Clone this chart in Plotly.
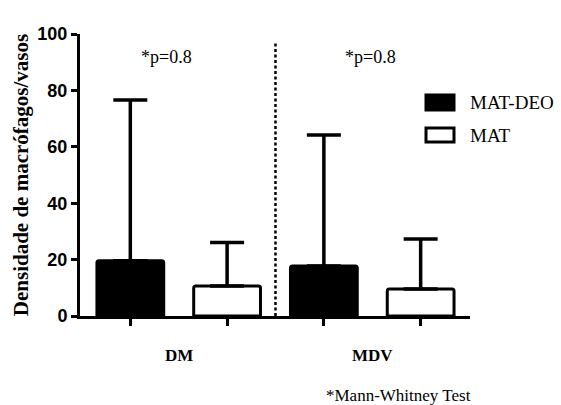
import plotly.graph_objects as go

# ---- data ----
groups = ["DM", "MDV"]
series_names = ["MAT-DEO", "MAT"]
mat_deo_mean = [19.6, 17.7]
mat_deo_upper = [76.6, 64.2]
mat_mean = [10.6, 9.6]
mat_upper = [26.1, 27.3]
p_values = ["*p=0.8", "*p=0.8"]
y_ticks = [0, 20, 40, 60, 80, 100]

W, H = 561, 405
ML, MR, MT, MB = 80, 91, 34, 89
PW, PH = W - ML - MR, H - MT - MB

def px(x):
    return (x - ML) / PW

def py(y):
    return (H - MB - y) / PH

SERIF = "Liberation Serif"
SANS = "Liberation Sans"

fig = go.Figure()

pos_deo = [0, 2]
pos_mat = [1, 3]

fig.add_trace(go.Bar(
    x=pos_deo, y=mat_deo_mean, name=series_names[0], width=0.69,
    marker=dict(color="black", line=dict(color="black", width=3), cornerradius=2),
    error_y=dict(type="data", symmetric=False,
                 array=[u - m for u, m in zip(mat_deo_upper, mat_deo_mean)],
                 arrayminus=[0, 0], color="black", thickness=3.5, width=17),
    showlegend=False,
))
fig.add_trace(go.Bar(
    x=pos_mat, y=mat_mean, name=series_names[1], width=0.69,
    marker=dict(color="white", line=dict(color="black", width=3), cornerradius=2),
    error_y=dict(type="data", symmetric=False,
                 array=[u - m for u, m in zip(mat_upper, mat_mean)],
                 arrayminus=[0, 0], color="black", thickness=3.5, width=17),
    showlegend=False,
))

# dashed separator
fig.add_shape(type="line", xref="x", yref="y", x0=1.5, x1=1.5, y0=0, y1=97.5,
              line=dict(color="black", width=2.5, dash="3px,2.5px"))

annotations = []
p_x = [0.375, 2.48]
for i, g in enumerate(groups):
    annotations.append(dict(x=2 * i + 0.5, y=py(355), xref="x", yref="paper",
                            text="<b>" + g + "</b>", showarrow=False,
                            font=dict(family=SERIF, size=17, color="black"),
                            xanchor="center", yanchor="middle"))
    annotations.append(dict(x=p_x[i], y=py(57), xref="x", yref="paper",
                            text=p_values[i], showarrow=False,
                            font=dict(family=SERIF, size=18, color="black"),
                            xanchor="center", yanchor="middle"))

# manual legend
leg = [(series_names[0], "black", 95, 110), (series_names[1], "white", 128, 142)]
for name, fill, y0, y1 in leg:
    fig.add_shape(type="rect", xref="paper", yref="paper",
                  x0=px(426), x1=px(454), y0=py(y1), y1=py(y0),
                  fillcolor=fill, line=dict(color="black", width=3))
    annotations.append(dict(x=px(468), y=py((y0 + y1) / 2), xref="paper", yref="paper",
                            text=name, showarrow=False, xanchor="left", yanchor="middle",
                            font=dict(family=SERIF, size=19, color="black")))

annotations.append(dict(x=px(398), y=py(395), xref="paper", yref="paper",
                        text="*Mann-Whitney Test", showarrow=False,
                        xanchor="center", yanchor="middle",
                        font=dict(family=SERIF, size=17, color="black")))

fig.update_layout(
    width=W, height=H,
    margin=dict(l=ML, r=MR, t=MT, b=MB),
    paper_bgcolor="white", plot_bgcolor="white",
    barmode="overlay",
    annotations=annotations,
    xaxis=dict(range=[-0.52, 3.51], tickvals=[0, 1, 2, 3], ticktext=["", "", "", ""],
               showline=True, linecolor="black", linewidth=3,
               ticks="outside", ticklen=7, tickwidth=2.5, tickcolor="black",
               showgrid=False, zeroline=False, fixedrange=True),
    yaxis=dict(range=[0, 100], tickvals=y_ticks,
               showline=True, linecolor="black", linewidth=3,
               ticks="outside", ticklen=6, tickwidth=2.5, tickcolor="black",
               tickfont=dict(family=SANS, size=18, color="black", weight="bold"),
               showgrid=False, zeroline=False,
               title=dict(text="Densidade de macrófagos/vasos",
                          font=dict(family=SERIF, size=21, color="black", weight="bold"),
                          standoff=4)),
)

fig.write_html("out.html")
